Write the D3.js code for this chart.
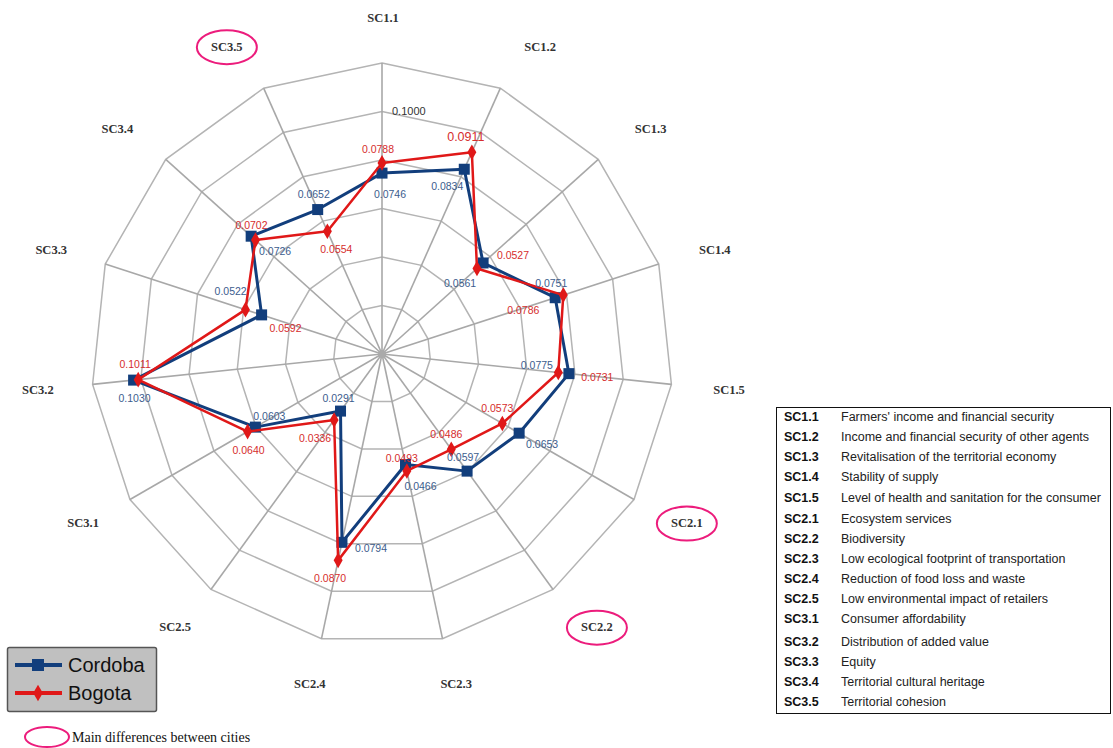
<!DOCTYPE html>
<html><head><meta charset="utf-8">
<script src="https://cdn.jsdelivr.net/npm/d3@7"></script>
<style>body{margin:0;background:#fff}svg{display:block}</style>
</head><body>
<svg id="c" width="1113" height="748"></svg>
<script>
const categories = ["SC1.1","SC1.2","SC1.3","SC1.4","SC1.5","SC2.1","SC2.2","SC2.3","SC2.4","SC2.5","SC3.1","SC3.2","SC3.3","SC3.4","SC3.5"];
const cordoba = [0.0746,0.0834,0.0561,0.0751,0.0775,0.0653,0.0597,0.0466,0.0794,0.0291,0.0603,0.1030,0.0522,0.0726,0.0652];
const bogota  = [0.0788,0.0911,0.0527,0.0786,0.0731,0.0573,0.0486,0.0493,0.0870,0.0336,0.0640,0.1011,0.0592,0.0702,0.0554];
const ringValues = [0.02,0.04,0.06,0.08,0.10,0.12];
const tickLabel = "0.1000";
const highlighted = ["SC3.5","SC2.1","SC2.2"];
const descriptions = ["Farmers' income and financial security","Income and financial security of other agents","Revitalisation of the territorial economy","Stability of supply","Level of health and sanitation for the consumer","Ecosystem services","Biodiversity","Low ecological footprint of transportation","Reduction of food loss and waste","Low environmental impact of retailers","Consumer affordability","Distribution of added value","Equity","Territorial cultural heritage","Territorial cohesion"];
// label layout tweaks (pixels)
const axisLabelNudge = [1,15,7,-2,-3,0,8,1,1,0,6,6,4,-3,-12];
const cordobaLabelOffsets = [[8,21],[-17,17],[-23,20],[-4,-15],[-32,-9],[23,11],[-4,-14],[15,21],[29,6],[-2,-13],[14,-11],[1,18],[-31,-24],[24,15],[-4,-16]];
const bogotaLabelOffsets  = [[-4,-14],[-6,-15],[36,-13],[-40,15],[39,4],[-5,-15],[-5,-15],[-5,-13],[-8,18],[-19,18],[1,18],[-3,-16],[40,18],[-4,-15],[9,18]];

const svg = d3.select("#c");
const cx = 382, cy = 354, R = 291;
const r = d3.scaleLinear().domain([0,0.12]).range([0,R]);
const ang = d3.scaleLinear().domain([0,categories.length]).range([0,2*Math.PI]);
const pt = (i,v)=>[cx + r(v)*Math.sin(ang(i)), cy - r(v)*Math.cos(ang(i))];

const g = svg.append("g");
ringValues.forEach(v=>{
  const pts = categories.map((c,i)=>pt(i,v));
  g.append("polygon").attr("points",pts.map(p=>p.join(",")).join(" "))
    .attr("fill","none").attr("stroke","#b4b4b4").attr("stroke-width",1.5);
});
categories.forEach((c,i)=>{
  const p = pt(i,0.12);
  g.append("line").attr("x1",cx).attr("y1",cy).attr("x2",p[0]).attr("y2",p[1])
    .attr("stroke","#a8a8a8").attr("stroke-width",1.6);
});
g.append("circle").attr("cx",cx).attr("cy",cy).attr("r",4).attr("fill","#aaa");
const tp = pt(0,0.10);
g.append("text").attr("x",tp[0]+10).attr("y",tp[1]+3).text(tickLabel)
  .attr("font-family","Liberation Sans, Arial").attr("font-size",11).attr("fill","#333");

categories.forEach((c,i)=>{
  const x = cx + 352*Math.sin(ang(i)) + axisLabelNudge[i], y = cy - 337*Math.cos(ang(i));
  g.append("text").attr("x",x).attr("y",y+4.5).attr("text-anchor","middle")
    .attr("font-family","Liberation Serif, Times New Roman").attr("font-weight","bold")
    .attr("font-size",12.5).attr("fill","#333").text(c);
  if (highlighted.includes(c)) {
    g.append("ellipse").attr("cx",x).attr("cy",y+1).attr("rx",30).attr("ry",17)
      .attr("fill","none").attr("stroke","#ec1c7c").attr("stroke-width",2);
  }
});

const line = d3.line().curve(d3.curveLinearClosed);
function series(vals, color, width, shape){
  const pts = vals.map((v,i)=>pt(i,v));
  g.append("path").attr("d",line(pts)).attr("fill","none").attr("stroke",color).attr("stroke-width",width).attr("stroke-linejoin","round");
  pts.forEach((p,i)=>{
    if (shape==="square") {
      g.append("rect").attr("x",p[0]-5.5).attr("y",p[1]-5.5).attr("width",11).attr("height",11).attr("fill",color);
    } else {
      g.append("path").attr("d",d3.symbol(d3.symbolDiamond,70)()).attr("transform",`translate(${p[0]},${p[1]})`).attr("fill",color);
    }
  });
  return pts;
}
const cPts = series(cordoba,"#123e7c",3,"square");
const bPts = series(bogota,"#e01818",2.5,"diamond");
function labels(pts, vals, offs, color, big){
  pts.forEach((p,i)=>{
    g.append("text").attr("x",p[0]+offs[i][0]).attr("y",p[1]+offs[i][1]+4)
      .attr("text-anchor","middle").attr("font-family","Liberation Sans, Arial")
      .attr("font-size", big && i===1 ? 12.5 : 10.5).attr("fill",color)
      .text(vals[i].toFixed(4));
  });
}
labels(cPts, cordoba, cordobaLabelOffsets, "#3c5d8e", false);
labels(bPts, bogota, bogotaLabelOffsets, "#d62d2d", true);

const lg = svg.append("g");
lg.append("rect").attr("x",7.5).attr("y",647.5).attr("width",149).attr("height",64).attr("rx",2)
  .attr("fill","#c0c0c0").attr("stroke","#555").attr("stroke-width",1.5);
[["Cordoba","#123e7c","square",665],["Bogota","#e01818","diamond",693]].forEach(([n,col,sh,y])=>{
  lg.append("line").attr("x1",15).attr("x2",62).attr("y1",y).attr("y2",y).attr("stroke",col).attr("stroke-width",4);
  if (sh==="square") lg.append("rect").attr("x",32).attr("y",y-6).attr("width",12).attr("height",12).attr("fill",col);
  else lg.append("path").attr("d",d3.symbol(d3.symbolDiamond,80)()).attr("transform",`translate(38,${y})`).attr("fill",col);
  lg.append("text").attr("x",68).attr("y",y+7).text(n).attr("font-family","Liberation Sans, Arial").attr("font-size",20).attr("fill","#111");
});
lg.append("ellipse").attr("cx",47).attr("cy",737).attr("rx",22).attr("ry",10).attr("fill","none").attr("stroke","#ec1c7c").attr("stroke-width",2);
lg.append("text").attr("x",72).attr("y",742).text("Main differences between cities")
  .attr("font-family","Liberation Serif, Times New Roman").attr("font-size",14).attr("fill","#111");

const tg = svg.append("g");
tg.append("rect").attr("x",776.5).attr("y",407.5).attr("width",334).attr("height",306).attr("fill","#fff").attr("stroke","#111").attr("stroke-width",1);
const rowY = d3.scaleLinear().domain([0,14]).range([421,703]);
categories.forEach((c,i)=>{
  const y = rowY(i) + (i>=11?3:(i>=5?1:0));
  tg.append("text").attr("x",784).attr("y",y).text(c).attr("font-family","Liberation Sans, Arial").attr("font-weight","bold").attr("font-size",12.5).attr("fill","#111");
  tg.append("text").attr("x",841).attr("y",y).text(descriptions[i]).attr("font-family","Liberation Sans, Arial").attr("font-size",12.5).attr("fill","#222");
});
</script>
</body></html>
